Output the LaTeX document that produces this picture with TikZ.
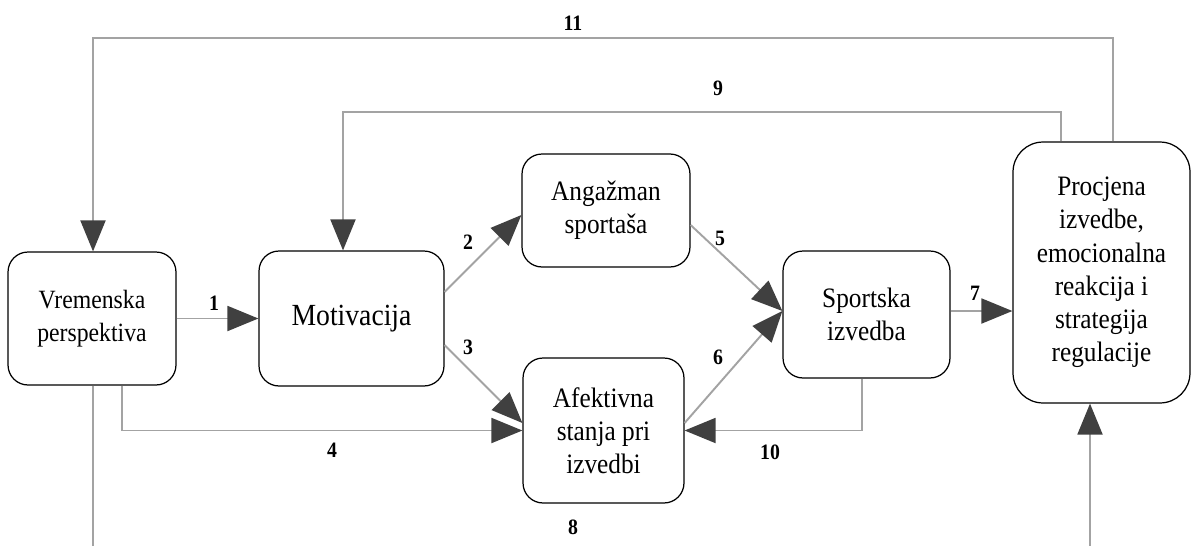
\documentclass[tikz,border=0pt]{standalone}
\usepackage{fontspec}
\setmainfont{Liberation Serif}[FakeStretch=0.9]
\usetikzlibrary{arrows.meta}
\definecolor{lineGray}{rgb}{0.64,0.64,0.64}
\definecolor{tipGray}{rgb}{0.25,0.25,0.25}

\begin{document}
\begin{tikzpicture}[x=0.02cm, y=-0.02cm,
  box/.style={draw, rounded corners=0.4cm, line width=0.7pt, align=center, inner sep=0pt, font=\fontsize{16}{18.7}\selectfont},
  conn/.style={draw=lineGray, line width=1.1pt, -{Triangle[length=0.62cm, width=0.5cm, color=tipGray]}},
  lbl/.style={font=\bfseries\fontsize{12.5}{14}\selectfont}]
	\path[use as bounding box, clip] (0,0) rectangle (1191,545);
	% boxes
	\node[box, minimum width=3.36cm, minimum height=2.66cm, font=\fontsize{15}{18.7}\selectfont] (vrem) at (92,318.5) {Vremenska\\perspektiva};
	\node[box, minimum width=3.7cm, minimum height=2.7cm, font=\fontsize{17.5}{20}\selectfont] (motiv) at (351.5,318.5) {Motivacija};
	\node[box, minimum width=3.36cm, minimum height=2.26cm] (angaz) at (606,210.5) {Angažman\\sportaša};
	\node[box, minimum width=3.22cm, minimum height=2.9cm] (afekt) at (603.5,430.5) {Afektivna\\stanja pri\\izvedbi};
	\node[box, minimum width=3.34cm, minimum height=2.54cm] (sport) at (866.5,314.5) {Sportska\\izvedba};
	\node[box, rounded corners=0.6cm, minimum width=3.54cm, minimum height=5.22cm, font=\fontsize{16}{18.9}\selectfont] (procj) at (1101.5,272.5) {Procjena\\izvedbe,\\emocionalna\\reakcija i\\strategija\\regulacije};
	% connectors
	\draw[conn] (vrem.east) -- (motiv.west);
	\draw[conn] (motiv.east |- 0,292) -- (angaz.west |- 0,215);
	\draw[conn] (motiv.east |- 0,345) -- (afekt.west |- 0,423);
	\draw[conn] (vrem.south -| 122,0) |- (afekt.west);
	\draw[conn] (angaz.east |- 0,225) -- (sport.west |- 0,311);
	\draw[conn] (afekt.east |- 0,423) -- (sport.west |- 0,311);
	\draw[conn] (sport.east |- 0,311) -- (procj.west |- 0,311);
	\draw[conn] (vrem.south -| 93,0) -- (93,560) -| (procj.south -| 1090,0);
	\draw[conn] (procj.north -| 1061,0) -- (1061,112) -| (motiv.north -| 343,0);
	\draw[conn] (sport.south -| 862,0) |- (afekt.east);
	\draw[conn] (procj.north -| 1113,0) -- (1113,38) -| (vrem.north -| 93,0);
	% labels
	\node[lbl] (l1) at (214,303) {1};
	\node[lbl] (l2) at (468,242) {2};
	\node[lbl] (l3) at (468,347) {3};
	\node[lbl] (l4) at (332,450) {4};
	\node[lbl] (l5) at (720,238) {5};
	\node[lbl] (l6) at (718,357) {6};
	\node[lbl] (l7) at (975,293) {7};
	\node[lbl] (l8) at (573,527) {8};
	\node[lbl] (l9) at (718,88) {9};
	\node[lbl] (l10) at (770,452) {10};
	\node[lbl] (l11) at (573,23) {11};
\end{tikzpicture}
\end{document}
